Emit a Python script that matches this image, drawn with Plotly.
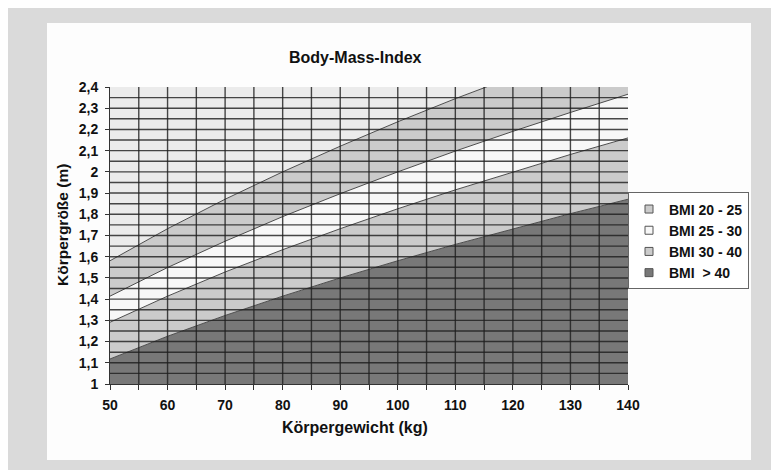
import numpy as np
import plotly.graph_objects as go

# Data: body height (m) at the BMI boundaries for each body weight (kg)
weight_kg = [50, 60, 70, 80, 90, 100, 110, 120, 130, 140]
height_bmi20 = [1.581, 1.732, 1.871, 2.000, 2.121, 2.236, 2.345, 2.449, 2.550, 2.646]
height_bmi25 = [1.414, 1.549, 1.673, 1.789, 1.897, 2.000, 2.098, 2.191, 2.280, 2.366]
height_bmi30 = [1.291, 1.414, 1.528, 1.633, 1.732, 1.826, 1.915, 2.000, 2.082, 2.160]
height_bmi40 = [1.118, 1.225, 1.323, 1.414, 1.500, 1.581, 1.658, 1.732, 1.803, 1.871]

band_names = ["BMI 20 - 25", "BMI 25 - 30", "BMI 30 - 40", "BMI  > 40"]
band_colors = ["#cbcbcb", "#f7f7f7", "#cbcbcb", "#787878"]
top_color = "#ebebeb"

x_ticks = [50, 60, 70, 80, 90, 100, 110, 120, 130, 140]
y_ticks = [1.0, 1.1, 1.2, 1.3, 1.4, 1.5, 1.6, 1.7, 1.8, 1.9, 2.0, 2.1, 2.2, 2.3, 2.4]
y_ticktext = ["1", "1,1", "1,2", "1,3", "1,4", "1,5", "1,6", "1,7", "1,8", "1,9",
              "2", "2,1", "2,2", "2,3", "2,4"]
y_max = 2.4

FONT = "Liberation Sans, Arial, sans-serif"
line_col = "#4d4d4d"

fig = go.Figure()
# bottom-up stacked regions
fig.add_trace(go.Scatter(x=weight_kg, y=height_bmi40, mode="lines", fill="tozeroy",
                         fillcolor=band_colors[3], line=dict(color=line_col, width=1),
                         showlegend=False, hoverinfo="skip"))
fig.add_trace(go.Scatter(x=weight_kg, y=height_bmi30, mode="lines", fill="tonexty",
                         fillcolor=band_colors[2], line=dict(color=line_col, width=1),
                         showlegend=False, hoverinfo="skip"))
fig.add_trace(go.Scatter(x=weight_kg, y=height_bmi25, mode="lines", fill="tonexty",
                         fillcolor=band_colors[1], line=dict(color=line_col, width=1),
                         showlegend=False, hoverinfo="skip"))
fig.add_trace(go.Scatter(x=weight_kg, y=height_bmi20, mode="lines", fill="tonexty",
                         fillcolor=band_colors[0], line=dict(color=line_col, width=1),
                         showlegend=False, hoverinfo="skip"))
fig.add_trace(go.Scatter(x=weight_kg, y=[y_max] * len(weight_kg), mode="lines", fill="tonexty",
                         fillcolor=top_color, line=dict(width=0),
                         showlegend=False, hoverinfo="skip"))

# legend entries
for name, col in zip(band_names, band_colors):
    fig.add_trace(go.Scatter(x=[None], y=[None], mode="markers", name=name,
                             marker=dict(symbol="square", size=8, color=col,
                                         line=dict(color="#555555", width=1))))

shapes = []
# outer grey frame and white panel
shapes.append(dict(type="rect", xref="paper", yref="paper", x0=-0.197, x1=1.35, y0=-0.32, y1=1.266,
                   fillcolor="#dadada", line=dict(width=0), layer="below"))
shapes.append(dict(type="rect", xref="paper", yref="paper", x0=-0.1216, x1=1.2375, y0=-0.2559, y1=1.2155,
                   fillcolor="#fdfdfd", line=dict(width=0), layer="below"))
# grid lines drawn above the filled areas
grid_col = "rgba(30,30,30,0.82)"
for gx in np.arange(55, 140, 5):
    shapes.append(dict(type="line", xref="x", yref="paper", x0=gx, x1=gx, y0=0, y1=1,
                       line=dict(color=grid_col, width=1.4), layer="above"))
for gy in np.arange(1.05, 2.4, 0.05):
    shapes.append(dict(type="line", xref="paper", yref="y", x0=0, x1=1, y0=gy, y1=gy,
                       line=dict(color=grid_col, width=1.4), layer="above"))

fig.update_layout(
    width=779, height=470,
    margin=dict(l=102, r=159, t=79, b=94),
    paper_bgcolor="#ffffff",
    plot_bgcolor=top_color,
    font=dict(family=FONT, size=13, color="#111111"),
    shapes=shapes,
    showlegend=True,
    legend=dict(x=1.0, xanchor="left", y=0.645, yanchor="top", traceorder="normal",
                bgcolor="#ffffff", bordercolor="#666666", borderwidth=1,
                font=dict(family=FONT, size=14, color="#111111", weight="bold"),
                itemwidth=30, tracegroupgap=0),
    annotations=[
        dict(text="<b>Body-Mass-Index</b>", xref="paper", yref="paper", x=0.473, y=1.1,
             xanchor="center", yanchor="middle",
             showarrow=False, font=dict(family=FONT, size=16, color="#111111")),
        dict(text="<b>Körpergewicht (kg)</b>", xref="paper", yref="paper", x=0.473, y=-0.148,
             xanchor="center", yanchor="middle",
             showarrow=False, font=dict(family=FONT, size=16, color="#111111")),
        dict(text="<b>Körpergröße (m)</b>", xref="paper", yref="paper", x=-0.093, y=0.535,
             xanchor="center", yanchor="middle",
             textangle=-90, showarrow=False, font=dict(family=FONT, size=15.5, color="#111111")),
    ],
)
fig.update_xaxes(range=[50, 140], tickvals=x_ticks, ticks="outside", ticklen=5, tickcolor="#333333",
                 showgrid=False, zeroline=False, showline=True, linecolor="#333333", linewidth=1,
                 ticklabelstandoff=3,
                 tickfont=dict(family=FONT, size=14, color="#111111", weight="bold"),
                 minor=dict(dtick=5, ticks="outside", ticklen=5, tickcolor="#333333", showgrid=False))
fig.update_yaxes(range=[1, y_max], tickvals=y_ticks, ticktext=y_ticktext, ticks="outside", ticklen=4,
                 tickcolor="#333333", showgrid=False, zeroline=False, showline=True,
                 linecolor="#333333", linewidth=1, ticklabelstandoff=4,
                 tickfont=dict(family=FONT, size=14, color="#111111", weight="bold"))

fig.write_html("out.html")
